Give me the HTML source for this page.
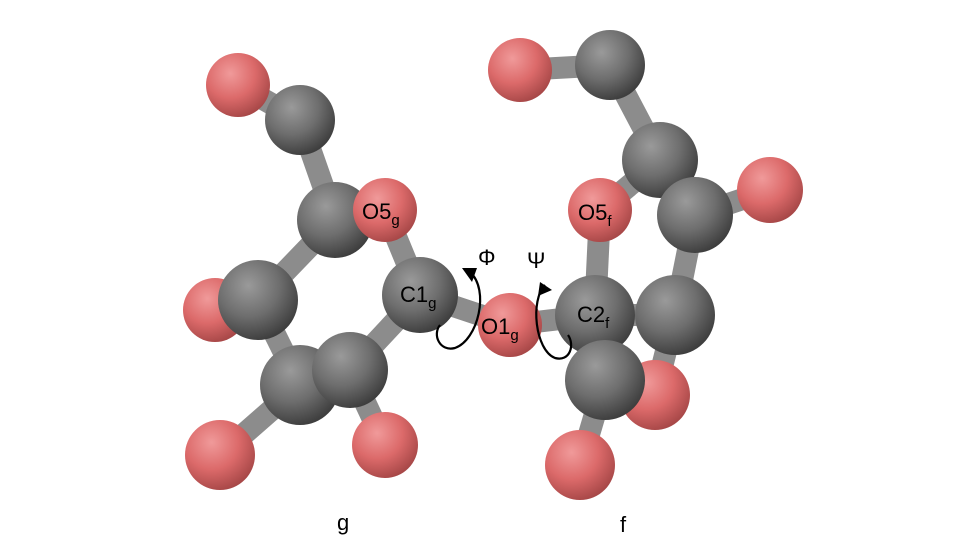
<!DOCTYPE html>
<html><head><meta charset="utf-8"><style>
html,body{margin:0;padding:0;background:#fff;}
svg{display:block;}
text{font-family:"Liberation Sans",Helvetica,Arial,sans-serif;fill:#000;}
</style></head><body>
<svg width="968" height="544" viewBox="0 0 968 544" xmlns="http://www.w3.org/2000/svg">
<defs>
<radialGradient id="gc" cx="0.38" cy="0.32" r="0.7">
<stop offset="0" stop-color="#9a9a9a"/><stop offset="0.55" stop-color="#6e6e6e"/><stop offset="1" stop-color="#3e3e3e"/>
</radialGradient>
<radialGradient id="ro" cx="0.38" cy="0.32" r="0.7">
<stop offset="0" stop-color="#f09a9a"/><stop offset="0.55" stop-color="#dc6a6a"/><stop offset="1" stop-color="#a84848"/>
</radialGradient>
<linearGradient id="bond" x1="0" y1="0" x2="1" y2="1">
<stop offset="0" stop-color="#a8a8a8"/><stop offset="1" stop-color="#6a6a6a"/>
</linearGradient>
</defs>
<g stroke="#8c8c8c" stroke-width="22" stroke-linecap="butt">
<line x1="238" y1="85" x2="300" y2="120"/>
<line x1="300" y1="120" x2="335" y2="220"/>
<line x1="335" y1="220" x2="385" y2="210"/>
<line x1="385" y1="210" x2="420" y2="295"/>
<line x1="335" y1="220" x2="258" y2="300"/>
<line x1="215" y1="310" x2="258" y2="300"/>
<line x1="258" y1="300" x2="300" y2="385"/>
<line x1="300" y1="385" x2="350" y2="370"/>
<line x1="350" y1="370" x2="420" y2="295"/>
<line x1="300" y1="385" x2="220" y2="455"/>
<line x1="350" y1="370" x2="385" y2="445"/>
<line x1="420" y1="295" x2="510" y2="325"/>
<line x1="510" y1="325" x2="595" y2="315"/>
<line x1="520" y1="70" x2="610" y2="65"/>
<line x1="610" y1="65" x2="660" y2="160"/>
<line x1="660" y1="160" x2="695" y2="215"/>
<line x1="695" y1="215" x2="770" y2="190"/>
<line x1="660" y1="160" x2="600" y2="210"/>
<line x1="600" y1="210" x2="595" y2="315"/>
<line x1="695" y1="215" x2="675" y2="315"/>
<line x1="675" y1="315" x2="595" y2="315"/>
<line x1="675" y1="315" x2="655" y2="395"/>
<line x1="595" y1="315" x2="605" y2="380"/>
<line x1="605" y1="380" x2="580" y2="465"/>
</g>
<!-- left molecule -->
<circle cx="238" cy="85" r="32" fill="url(#ro)"/>
<circle cx="300" cy="120" r="35" fill="url(#gc)"/>
<circle cx="215" cy="310" r="32" fill="url(#ro)"/>
<circle cx="335" cy="220" r="38" fill="url(#gc)"/>
<circle cx="385" cy="210" r="32" fill="url(#ro)"/>
<circle cx="258" cy="300" r="40" fill="url(#gc)"/>
<circle cx="220" cy="455" r="35" fill="url(#ro)"/>
<circle cx="385" cy="445" r="33" fill="url(#ro)"/>
<circle cx="300" cy="385" r="40" fill="url(#gc)"/>
<circle cx="350" cy="370" r="38" fill="url(#gc)"/>
<circle cx="420" cy="295" r="38" fill="url(#gc)"/>
<circle cx="510" cy="325" r="32" fill="url(#ro)"/>
<!-- right molecule -->
<circle cx="520" cy="70" r="32" fill="url(#ro)"/>
<circle cx="610" cy="65" r="35" fill="url(#gc)"/>
<circle cx="770" cy="190" r="33" fill="url(#ro)"/>
<circle cx="660" cy="160" r="38" fill="url(#gc)"/>
<circle cx="695" cy="215" r="38" fill="url(#gc)"/>
<circle cx="655" cy="395" r="35" fill="url(#ro)"/>
<circle cx="675" cy="315" r="40" fill="url(#gc)"/>
<circle cx="600" cy="210" r="32" fill="url(#ro)"/>
<circle cx="595" cy="315" r="40" fill="url(#gc)"/>
<circle cx="605" cy="380" r="40" fill="url(#gc)"/>
<circle cx="580" cy="465" r="35" fill="url(#ro)"/>
<!-- torsion arrows -->
<g fill="none" stroke="#000" stroke-width="2.2">
<path d="M470 272 C 490 290, 478 340, 455 348 C 440 352, 432 335, 440 325"/>
<path d="M545 285 C 530 300, 535 350, 555 358 C 570 362, 575 345, 568 335"/>
</g>
<polygon points="462,268 477,268 472,282" fill="#000"/>
<polygon points="540,282 552,290 538,296" fill="#000"/>
<!-- labels -->
<text x="362" y="219" font-size="22">O5<tspan font-size="15" dy="6">g</tspan></text>
<text x="400" y="302" font-size="22">C1<tspan font-size="15" dy="6">g</tspan></text>
<text x="481" y="334" font-size="22">O1<tspan font-size="15" dy="6">g</tspan></text>
<text x="578" y="220" font-size="22">O5<tspan font-size="15" dy="6">f</tspan></text>
<text x="577" y="322" font-size="22">C2<tspan font-size="15" dy="6">f</tspan></text>
<text x="478" y="265" font-size="22">Φ</text>
<text x="527" y="268" font-size="22">Ψ</text>
<text x="337" y="530" font-size="22">g</text>
<text x="620" y="532" font-size="22">f</text>
</svg>
</body></html>
